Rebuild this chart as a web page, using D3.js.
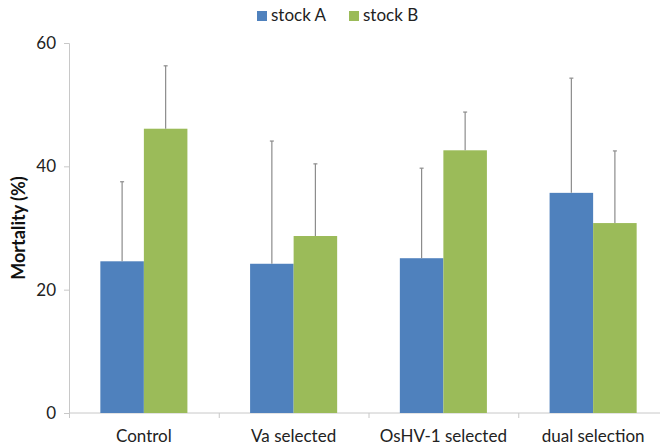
<!DOCTYPE html>
<html>
<head>
<meta charset="utf-8">
<script src="https://cdn.jsdelivr.net/npm/d3@7"></script>
<style>
  body { margin: 0; background: #fff; }
  svg { display: block; font-family: Lato, "Open Sans", sans-serif; }
</style>
</head>
<body>
<svg width="660" height="446"></svg>
<script>
const categories = ["Control", "Va selected", "OsHV-1 selected", "dual selection"];
const series = ["stock A", "stock B"];
const stockA = [24.6, 24.2, 25.1, 35.7];
const stockB = [46.1, 28.7, 42.6, 30.8];
const errA = [12.9, 19.9, 14.6, 18.6];
const errB = [10.2, 11.7, 6.2, 11.7];
const yTicks = [0, 20, 40, 60];

const colors = {"stock A": "#4F81BD", "stock B": "#9BBB59"};

const svg = d3.select("svg");
const x0 = 69, x1 = 668, yBase = 413, yTop = 43;

const x = d3.scaleBand().domain(categories).range([x0, x1]);
const y = d3.scaleLinear().domain([0, 60]).range([yBase, yTop]);

// excel style gap width: 144% of one bar
const gapW = 1.44;
const groupW = x.bandwidth() / (2 + gapW) * 2;
const xs = d3.scaleBand().domain(series)
  .range([(x.bandwidth() - groupW) / 2, (x.bandwidth() + groupW) / 2]);

const rows = categories.map((c, i) => ({cat: c, vals: [
  {s: "stock A", v: stockA[i], e: errA[i]},
  {s: "stock B", v: stockB[i], e: errB[i]}
]}));

// y axis
const yAxis = svg.append("g").attr("transform", `translate(${x0},0)`)
  .call(d3.axisLeft(y).tickValues(yTicks).tickSize(5).tickPadding(8));
yAxis.select(".domain").attr("stroke", "#c8c8c8");
yAxis.selectAll(".tick line").attr("stroke", "#c8c8c8");
yAxis.selectAll(".tick text").attr("font-size", 17).attr("fill", "#222").attr("font-family", "Lato, sans-serif");

// x axis
const xAxisG = svg.append("g").attr("transform", `translate(0,${yBase})`);
xAxisG.append("line").attr("x1", x0).attr("x2", x1).attr("stroke", "#c8c8c8");
xAxisG.selectAll(".xt").data(categories.concat(["end"]))
  .join("line")
  .attr("x1", (d, i) => x0 + i * x.bandwidth() + 0.5)
  .attr("x2", (d, i) => x0 + i * x.bandwidth() + 0.5)
  .attr("y1", 0).attr("y2", 5).attr("stroke", "#c8c8c8");
xAxisG.selectAll(".xl").data(categories)
  .join("text")
  .attr("x", d => x(d) + x.bandwidth() / 2)
  .attr("y", 29)
  .attr("text-anchor", "middle")
  .attr("font-size", 17)
  .attr("fill", "#222")
  .text(d => d);

// bars
const g = svg.selectAll(".grp").data(rows).join("g")
  .attr("transform", d => `translate(${x(d.cat)},0)`);
g.selectAll("rect").data(d => d.vals).join("rect")
  .attr("x", d => xs(d.s))
  .attr("width", xs.bandwidth())
  .attr("y", d => y(d.v))
  .attr("height", d => yBase - y(d.v))
  .attr("fill", d => colors[d.s]);

// error bars (upper only)
g.selectAll(".err").data(d => d.vals).join("line")
  .attr("x1", d => xs(d.s) + xs.bandwidth() / 2)
  .attr("x2", d => xs(d.s) + xs.bandwidth() / 2)
  .attr("y1", d => y(d.v))
  .attr("y2", d => y(d.v + d.e))
  .attr("stroke", "#8c8c8c").attr("stroke-width", 1.2);
g.selectAll(".cap").data(d => d.vals).join("line")
  .attr("x1", d => xs(d.s) + xs.bandwidth() / 2 - 2)
  .attr("x2", d => xs(d.s) + xs.bandwidth() / 2 + 2)
  .attr("y1", d => y(d.v + d.e))
  .attr("y2", d => y(d.v + d.e))
  .attr("stroke", "#8c8c8c").attr("stroke-width", 1.2);

// y label
svg.append("text")
  .attr("transform", `translate(25,228) rotate(-90)`)
  .attr("text-anchor", "middle")
  .attr("font-size", 18).attr("font-weight", "bold").attr("fill", "#111")
  .text("Mortality (%)");

// legend
const legX = [257, 349];
const leg = svg.selectAll(".leg").data(series).join("g")
  .attr("transform", (d, i) => `translate(${legX[i]},0)`);
leg.append("rect").attr("x", 0).attr("y", 11).attr("width", 10).attr("height", 10)
  .attr("fill", d => colors[d]);
leg.append("text").attr("x", 14).attr("y", 21).attr("font-size", 17).attr("fill", "#222")
  .text(d => d);
</script>
</body>
</html>
